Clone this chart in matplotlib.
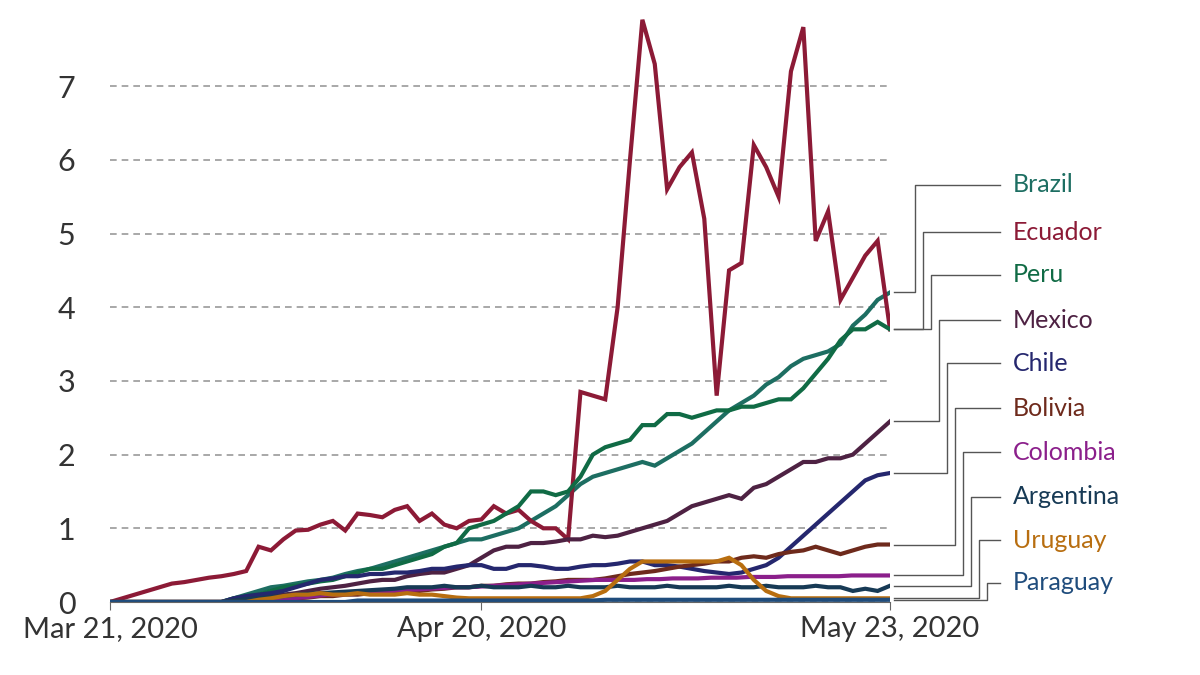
import numpy as np
import pandas as pd
import matplotlib
matplotlib.use("Agg")
import matplotlib.pyplot as plt

plt.rcParams['font.family'] = ['Lato', 'DejaVu Sans']

start_label = "Mar 21, 2020"
mid_label = "Apr 20, 2020"
end_label = "May 23, 2020"
dates = pd.date_range("2020-03-21", "2020-05-23")

brazil = [0]*10 + [.05, .1, .15, .2, .22, .25, .28, .3, .33, .38, .42, .45, .5, .55, .6, .65, .7, .75, .8, .85,
                   .85, .9, .95, 1.0, 1.1, 1.2, 1.3, 1.45, 1.6, 1.7, 1.75, 1.8, 1.85, 1.9, 1.85, 1.95, 2.05, 2.15,
                   2.3, 2.45, 2.6, 2.7, 2.8, 2.95, 3.05, 3.2, 3.3, 3.35, 3.4, 3.5, 3.75, 3.9, 4.1, 4.2]
ecuador = [0, .05, .1, .15, .2, .25, .27, .3, .33, .35, .38, .42, .75, .7, .85, .97, .98, 1.05, 1.1, .97,
           1.2, 1.18, 1.15, 1.25, 1.3, 1.1, 1.2, 1.05, 1.0, 1.1, 1.12, 1.3, 1.2, 1.25, 1.1, 1.0, 1.0, .85,
           2.85, 2.8, 2.75, 4.0, 6.0, 7.9, 7.3, 5.6, 5.9, 6.1, 5.2, 2.8, 4.5, 4.6, 6.2, 5.9, 5.5, 7.2, 7.8,
           4.9, 5.3, 4.1, 4.4, 4.7, 4.9, 3.7]
peru = [0]*10 + [.05, .08, .1, .15, .2, .22, .25, .28, .3, .35, .4, .45, .45, .5, .55, .6, .65, .75, .8, 1.0,
                 1.05, 1.1, 1.2, 1.3, 1.5, 1.5, 1.45, 1.5, 1.7, 2.0, 2.1, 2.15, 2.2, 2.4, 2.4, 2.55, 2.55, 2.5,
                 2.55, 2.6, 2.6, 2.65, 2.65, 2.7, 2.75, 2.75, 2.9, 3.1, 3.3, 3.55, 3.7, 3.7, 3.8, 3.7]
mexico = [0]*12 + [.05, .08, .1, .12, .15, .18, .2, .22, .25, .28, .3, .3, .35, .38, .4, .4, .45, .5, .6, .7,
                   .75, .75, .8, .8, .82, .85, .85, .9, .88, .9, .95, 1.0, 1.05, 1.1, 1.2, 1.3, 1.35, 1.4, 1.45,
                   1.4, 1.55, 1.6, 1.7, 1.8, 1.9, 1.9, 1.95, 1.95, 2.0, 2.15, 2.3, 2.45]
chile = [0]*10 + [.05, .08, .1, .12, .15, .2, .25, .3, .32, .35, .35, .38, .38, .4, .4, .42, .45, .45, .48, .5,
                  .5, .45, .45, .5, .5, .48, .45, .45, .48, .5, .5, .52, .55, .55, .5, .5, .48, .45, .42, .4,
                  .38, .4, .45, .5, .6, .75, .9, 1.05, 1.2, 1.35, 1.5, 1.65, 1.72, 1.75]
bolivia = [0]*14 + [.05, .05, .06, .08, .08, .1, .1, .12, .12, .14, .15, .15, .17, .18, .2, .2, .22, .22, .24,
                    .25, .25, .27, .28, .3, .3, .3, .32, .35, .38, .4, .42, .45, .48, .5, .52, .55, .55, .6, .62,
                    .6, .65, .68, .7, .75, .7, .65, .7, .75, .78, .78]
colombia = [0]*12 + [.02, .04, .05, .06, .08, .1, .1, .12, .13, .14, .15, .16, .17, .18, .19, .2, .2, .21, .22,
                     .23, .24, .25, .26, .27, .28, .29, .3, .3, .3, .3, .31, .31, .32, .32, .32, .33, .33, .33, .34,
                     .34, .34, .35, .35, .35, .35, .35, .36, .36, .36, .36]
argentina = [0]*10 + [.02, .04, .05, .07, .08, .1, .11, .12, .13, .14, .15, .16, .17, .18, .2, .2, .2, .22, .2,
                      .2, .22, .2, .2, .2, .22, .2, .2, .22, .2, .2, .2, .22, .2, .2, .2, .22, .2, .2, .2, .2, .22,
                      .2, .2, .22, .2, .2, .2, .22, .2, .2, .15, .18, .15, .22]
uruguay = [0]*12 + [.03, .05, .08, .1, .1, .12, .1, .1, .12, .1, .1, .1, .12, .1, .1, .08, .06, .05, .05, .05,
                    .05, .05, .05, .05, .05, .05, .05, .08, .15, .3, .45, .55, .55, .55, .55, .55, .55, .55, .6,
                    .5, .3, .15, .08, .05, .05, .05, .05, .05, .05, .05, .05, .05]
paraguay = [0]*20 + [.02]*20 + [.03]*24

names = ["Brazil", "Ecuador", "Peru", "Mexico", "Chile", "Bolivia", "Colombia", "Argentina", "Uruguay", "Paraguay"]
series = [brazil, ecuador, peru, mexico, chile, bolivia, colombia, argentina, uruguay, paraguay]
colors = ["#1d6e62", "#8c1a36", "#106b45", "#4e2243", "#25276e", "#6e2a1c", "#8b1f8b", "#173a55", "#b86e10",
          "#1f4c7c"]
label_px = [185, 232, 275, 320, 363, 408, 452, 497, 540, 583]

W, H = 1200, 675
fig = plt.figure(figsize=(12, 6.75), dpi=100)
x0, x1, y0 = 110, 890, 602
ppu = 73.7
ymax = 7.95
ax = fig.add_axes([x0/W, 1-y0/H, (x1-x0)/W, ymax*ppu/H])

ndays = len(dates) - 1
for name, s, c in zip(names, series, colors):
    # series; spread them over the full date span
    d = np.linspace(0, ndays, len(s))
    ax.plot(d, s, color=c, lw=3, solid_joinstyle='miter')

ax.set_xlim(0, ndays)
ax.set_ylim(0, ymax)
ax.set_yticks(range(8))
ax.set_yticklabels([str(i) for i in range(8)], fontsize=22, color="#333")
ax.set_xticks([0, 30, ndays])
ax.set_xticklabels([start_label, mid_label, end_label], fontsize=21, color="#333")
ax.grid(axis='y', linestyle=(0, (4, 3)), color="#999", lw=1.2)
for sp in ["top", "right", "left"]:
    ax.spines[sp].set_visible(False)
ax.spines["bottom"].set_color("#666")
ax.tick_params(axis='y', length=0, pad=25)
ax.tick_params(axis='x', length=6, color="#666", pad=4)

# labels with connector lines
dpx = (x1 - x0) / ndays
def px2x(px):
    return (px - x0) / dpx
def py2y(py):
    return (y0 - py) / ppu

for i, (name, s, c, py) in enumerate(zip(names, series, colors, label_px)):
    elbow = 915 + i * 8
    yl = py2y(py)
    ax.plot([ndays + 0.3, px2x(elbow), px2x(elbow), px2x(1000)], [s[-1], s[-1], yl, yl],
            color="#555", lw=1, clip_on=False)
    ax.text(px2x(1013), yl, name, color=c, fontsize=18, va='center', ha='left', clip_on=False)

fig.savefig("out.png", dpi=100, facecolor="white")
